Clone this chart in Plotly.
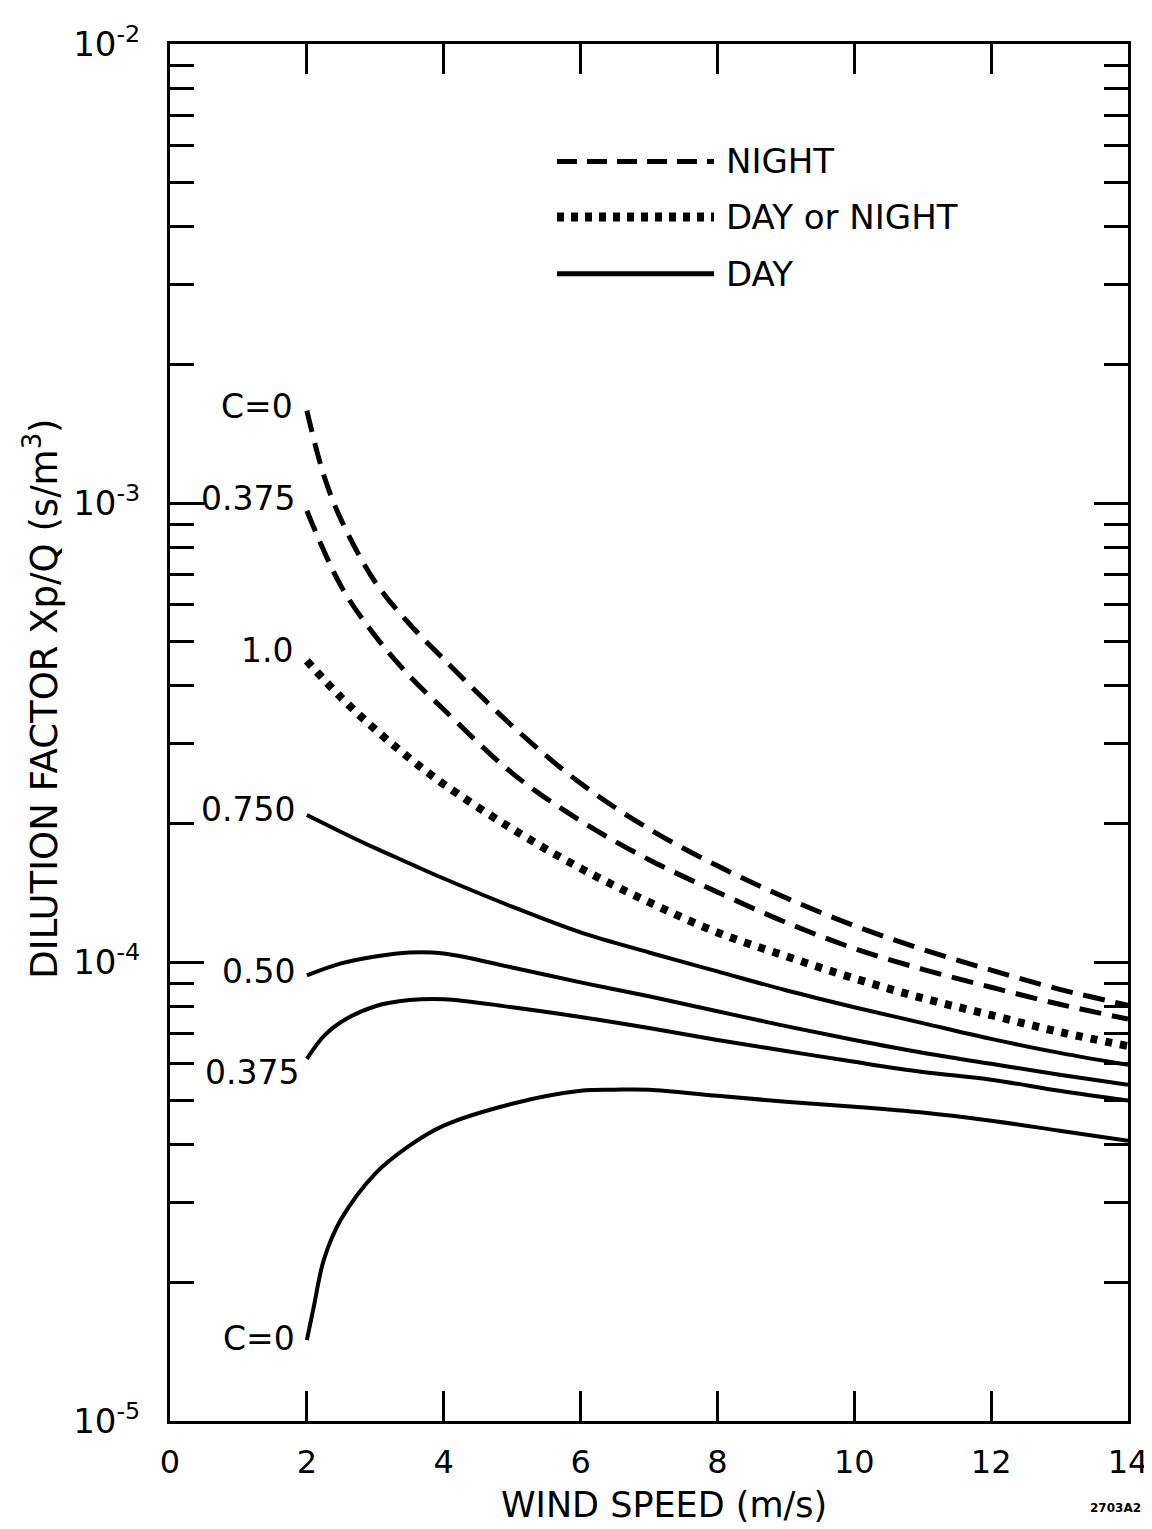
import numpy as np
import plotly.graph_objects as go

# ---------------- data ----------------
wind = [2, 2.5, 3, 3.5, 4, 5, 6, 7, 8, 9, 10, 11, 12, 13, 14]
wind_n0 = [2, 2.25, 2.5, 3, 3.5, 4, 5, 6, 7, 8, 9, 10, 11, 12, 13, 14]
wind_d0375 = [2, 2.25, 2.5, 3, 3.5, 4, 5, 6, 7, 8, 9, 10, 11, 12, 13, 14]
wind_d0 = [2, 2.1, 2.25, 2.5, 3, 3.5, 4, 5, 6, 6.5, 7, 8, 9, 10, 11, 12, 13, 14]

night_c0 = [1.59e-3, 1.146e-3, 9.2e-4, 6.72e-4, 5.45e-4, 4.57e-4, 3.27e-4, 2.45e-4,
            1.95e-4, 1.62e-4, 1.38e-4, 1.20e-4, 1.065e-4, 9.6e-5, 8.72e-5, 8.05e-5]
night_c0375 = [9.62e-4, 6.59e-4, 5.13e-4, 4.20e-4, 3.55e-4, 2.58e-4, 2.03e-4, 1.67e-4,
               1.42e-4, 1.22e-4, 1.07e-4, 9.64e-5, 8.81e-5, 8.09e-5, 7.51e-5]
any_c1 = [4.53e-4, 3.77e-4, 3.21e-4, 2.78e-4, 2.44e-4, 1.95e-4, 1.60e-4, 1.35e-4,
          1.16e-4, 1.03e-4, 9.21e-5, 8.34e-5, 7.66e-5, 7.04e-5, 6.56e-5]
day_c075 = [2.09e-4, 1.92e-4, 1.77e-4, 1.64e-4, 1.52e-4, 1.32e-4, 1.16e-4, 1.049e-4,
            9.54e-5, 8.68e-5, 7.97e-5, 7.36e-5, 6.80e-5, 6.34e-5, 5.97e-5]
day_c05 = [9.35e-5, 9.93e-5, 1.028e-4, 1.049e-4, 1.044e-4, 9.73e-5, 9.03e-5, 8.42e-5,
           7.81e-5, 7.25e-5, 6.76e-5, 6.34e-5, 6.00e-5, 5.68e-5, 5.40e-5]
day_c0375 = [6.15e-5, 6.90e-5, 7.40e-5, 8.01e-5, 8.26e-5, 8.30e-5, 7.97e-5, 7.59e-5,
             7.18e-5, 6.76e-5, 6.40e-5, 6.06e-5, 5.76e-5, 5.54e-5, 5.24e-5, 4.99e-5]
day_c0 = [1.50e-5, 1.77e-5, 2.25e-5, 2.75e-5, 3.46e-5, 3.98e-5, 4.40e-5, 4.91e-5,
          5.24e-5, 5.27e-5, 5.27e-5, 5.11e-5, 4.96e-5, 4.84e-5, 4.70e-5, 4.51e-5,
          4.29e-5, 4.08e-5]

x_ticks = [0, 2, 4, 6, 8, 10, 12, 14]
decades = [-5, -4, -3, -2]
legend_labels = ["NIGHT", "DAY or NIGHT", "DAY"]

# ---------------- figure ----------------
FONT = "DejaVu Sans"
BLACK = "#000000"
SMOOTH = 1.0

curves = [
    (wind_n0, night_c0, "dash", "C=0"),
    (wind, night_c0375, "dash", "0.375"),
    (wind, any_c1, "dot", "1.0"),
    (wind, day_c075, "solid", "0.750"),
    (wind, day_c05, "solid", "0.50"),
    (wind_d0375, day_c0375, "solid", "0.375"),
    (wind_d0, day_c0, "solid", "C=0"),
]
label_shift = {0: (-12, 4), 1: (-10, 12), 2: (-12, 10), 3: (-10, 6), 4: (-10, 4),
               5: (-6, -14), 6: (-10, 2)}

fig = go.Figure()
annotations = []
for i, (xs, ys, style, lab) in enumerate(curves):
    if style == "dash":
        line = dict(color=BLACK, width=5, dash="22px,11px", shape="spline", smoothing=SMOOTH)
    elif style == "dot":
        line = dict(color=BLACK, width=8, dash="7px,8px", shape="spline", smoothing=SMOOTH)
    else:
        line = dict(color=BLACK, width=4, shape="spline", smoothing=SMOOTH)
    fig.add_trace(go.Scatter(x=xs, y=ys, mode="lines", line=line,
                             showlegend=False, hoverinfo="skip"))
    dx, dy = label_shift[i]
    annotations.append(dict(x=xs[0], y=np.log10(ys[0]), xref="x", yref="y",
                            text=lab, showarrow=False, xanchor="right",
                            yanchor="middle", xshift=dx, yshift=dy,
                            font=dict(family=FONT, size=33, color=BLACK)))

# y ticks: labelled decades (major) + 2..9 multiples (minor)
major_vals = [10.0 ** d for d in decades]
major_text = [f"10<sup>{d}</sup>" for d in decades]
minor_vals = [m * 10.0 ** d for d in decades[:-1] for m in range(2, 10)]

# page-pixel helpers (plot area in page pixels) for paper placement of decorations
L, R, T, B = 170, 1128, 37, 1421
OFF = 8  # body margin of the html page
W, H = 1152, 1529
def px(xp):
    return (xp - L) / (R - L)
def py(yp):
    return (B - yp) / (B - T)

# legend (drawn manually to match the long keys)
leg_y = [155, 211, 268]
leg_dash = ["20px,10px", "7px,7px", "solid"]
leg_w = [5, 9, 5]
shapes = []
for yy, dsh, w, txt in zip(leg_y, leg_dash, leg_w, legend_labels):
    shapes.append(dict(type="line", xref="paper", yref="paper",
                       x0=px(557), x1=px(714), y0=py(yy), y1=py(yy),
                       line=dict(color=BLACK, width=w, dash=dsh)))
    annotations.append(dict(x=px(724), y=py(yy), xref="paper", yref="paper",
                            text=txt, showarrow=False, xanchor="left",
                            yanchor="middle",
                            font=dict(family=FONT, size=34, color=BLACK)))

# axis titles
annotations.append(dict(x=px(664), y=py(1505), xref="paper", yref="paper",
                        text="WIND SPEED (m/s)", showarrow=False,
                        xanchor="center", yanchor="middle",
                        font=dict(family=FONT, size=35, color=BLACK)))
annotations.append(dict(x=px(42), y=py(695), xref="paper", yref="paper",
                        text="DILUTION FACTOR Xp/Q (s/m<sup>3</sup>)",
                        showarrow=False, textangle=-90,
                        xanchor="center", yanchor="middle",
                        font=dict(family=FONT, size=37, color=BLACK)))
annotations.append(dict(x=px(1143), y=py(1508), xref="paper", yref="paper",
                        text="<b>2703A2</b>", showarrow=False,
                        xanchor="right", yanchor="middle",
                        font=dict(family=FONT, size=12, color=BLACK)))

fig.update_layout(
    width=W, height=H,
    margin=dict(l=L - OFF, r=W - (R - OFF), t=T - OFF, b=H - (B - OFF)),
    paper_bgcolor="white", plot_bgcolor="white",
    showlegend=False,
    annotations=annotations, shapes=shapes,
)
fig.update_xaxes(range=[0, 14], tickvals=x_ticks, ticktext=[str(v) for v in x_ticks],
                 showgrid=False, zeroline=False, showline=True, linecolor=BLACK,
                 linewidth=3, mirror="ticks", ticks="inside", ticklen=30,
                 tickwidth=3, tickcolor=BLACK, ticklabelstandoff=11,
                 tickfont=dict(family=FONT, size=32, color=BLACK))
fig.update_yaxes(type="log", range=[-5, -2], tickvals=major_vals, ticktext=major_text,
                 showgrid=False, zeroline=False, showline=True, linecolor=BLACK,
                 linewidth=3, mirror="ticks", ticks="inside", ticklen=34,
                 tickwidth=3, tickcolor=BLACK, ticklabelstandoff=20,
                 tickfont=dict(family=FONT, size=34, color=BLACK),
                 minor=dict(tickvals=minor_vals, ticks="inside", ticklen=24,
                            tickwidth=3, tickcolor=BLACK, showgrid=False))

fig.write_html("out.html")
